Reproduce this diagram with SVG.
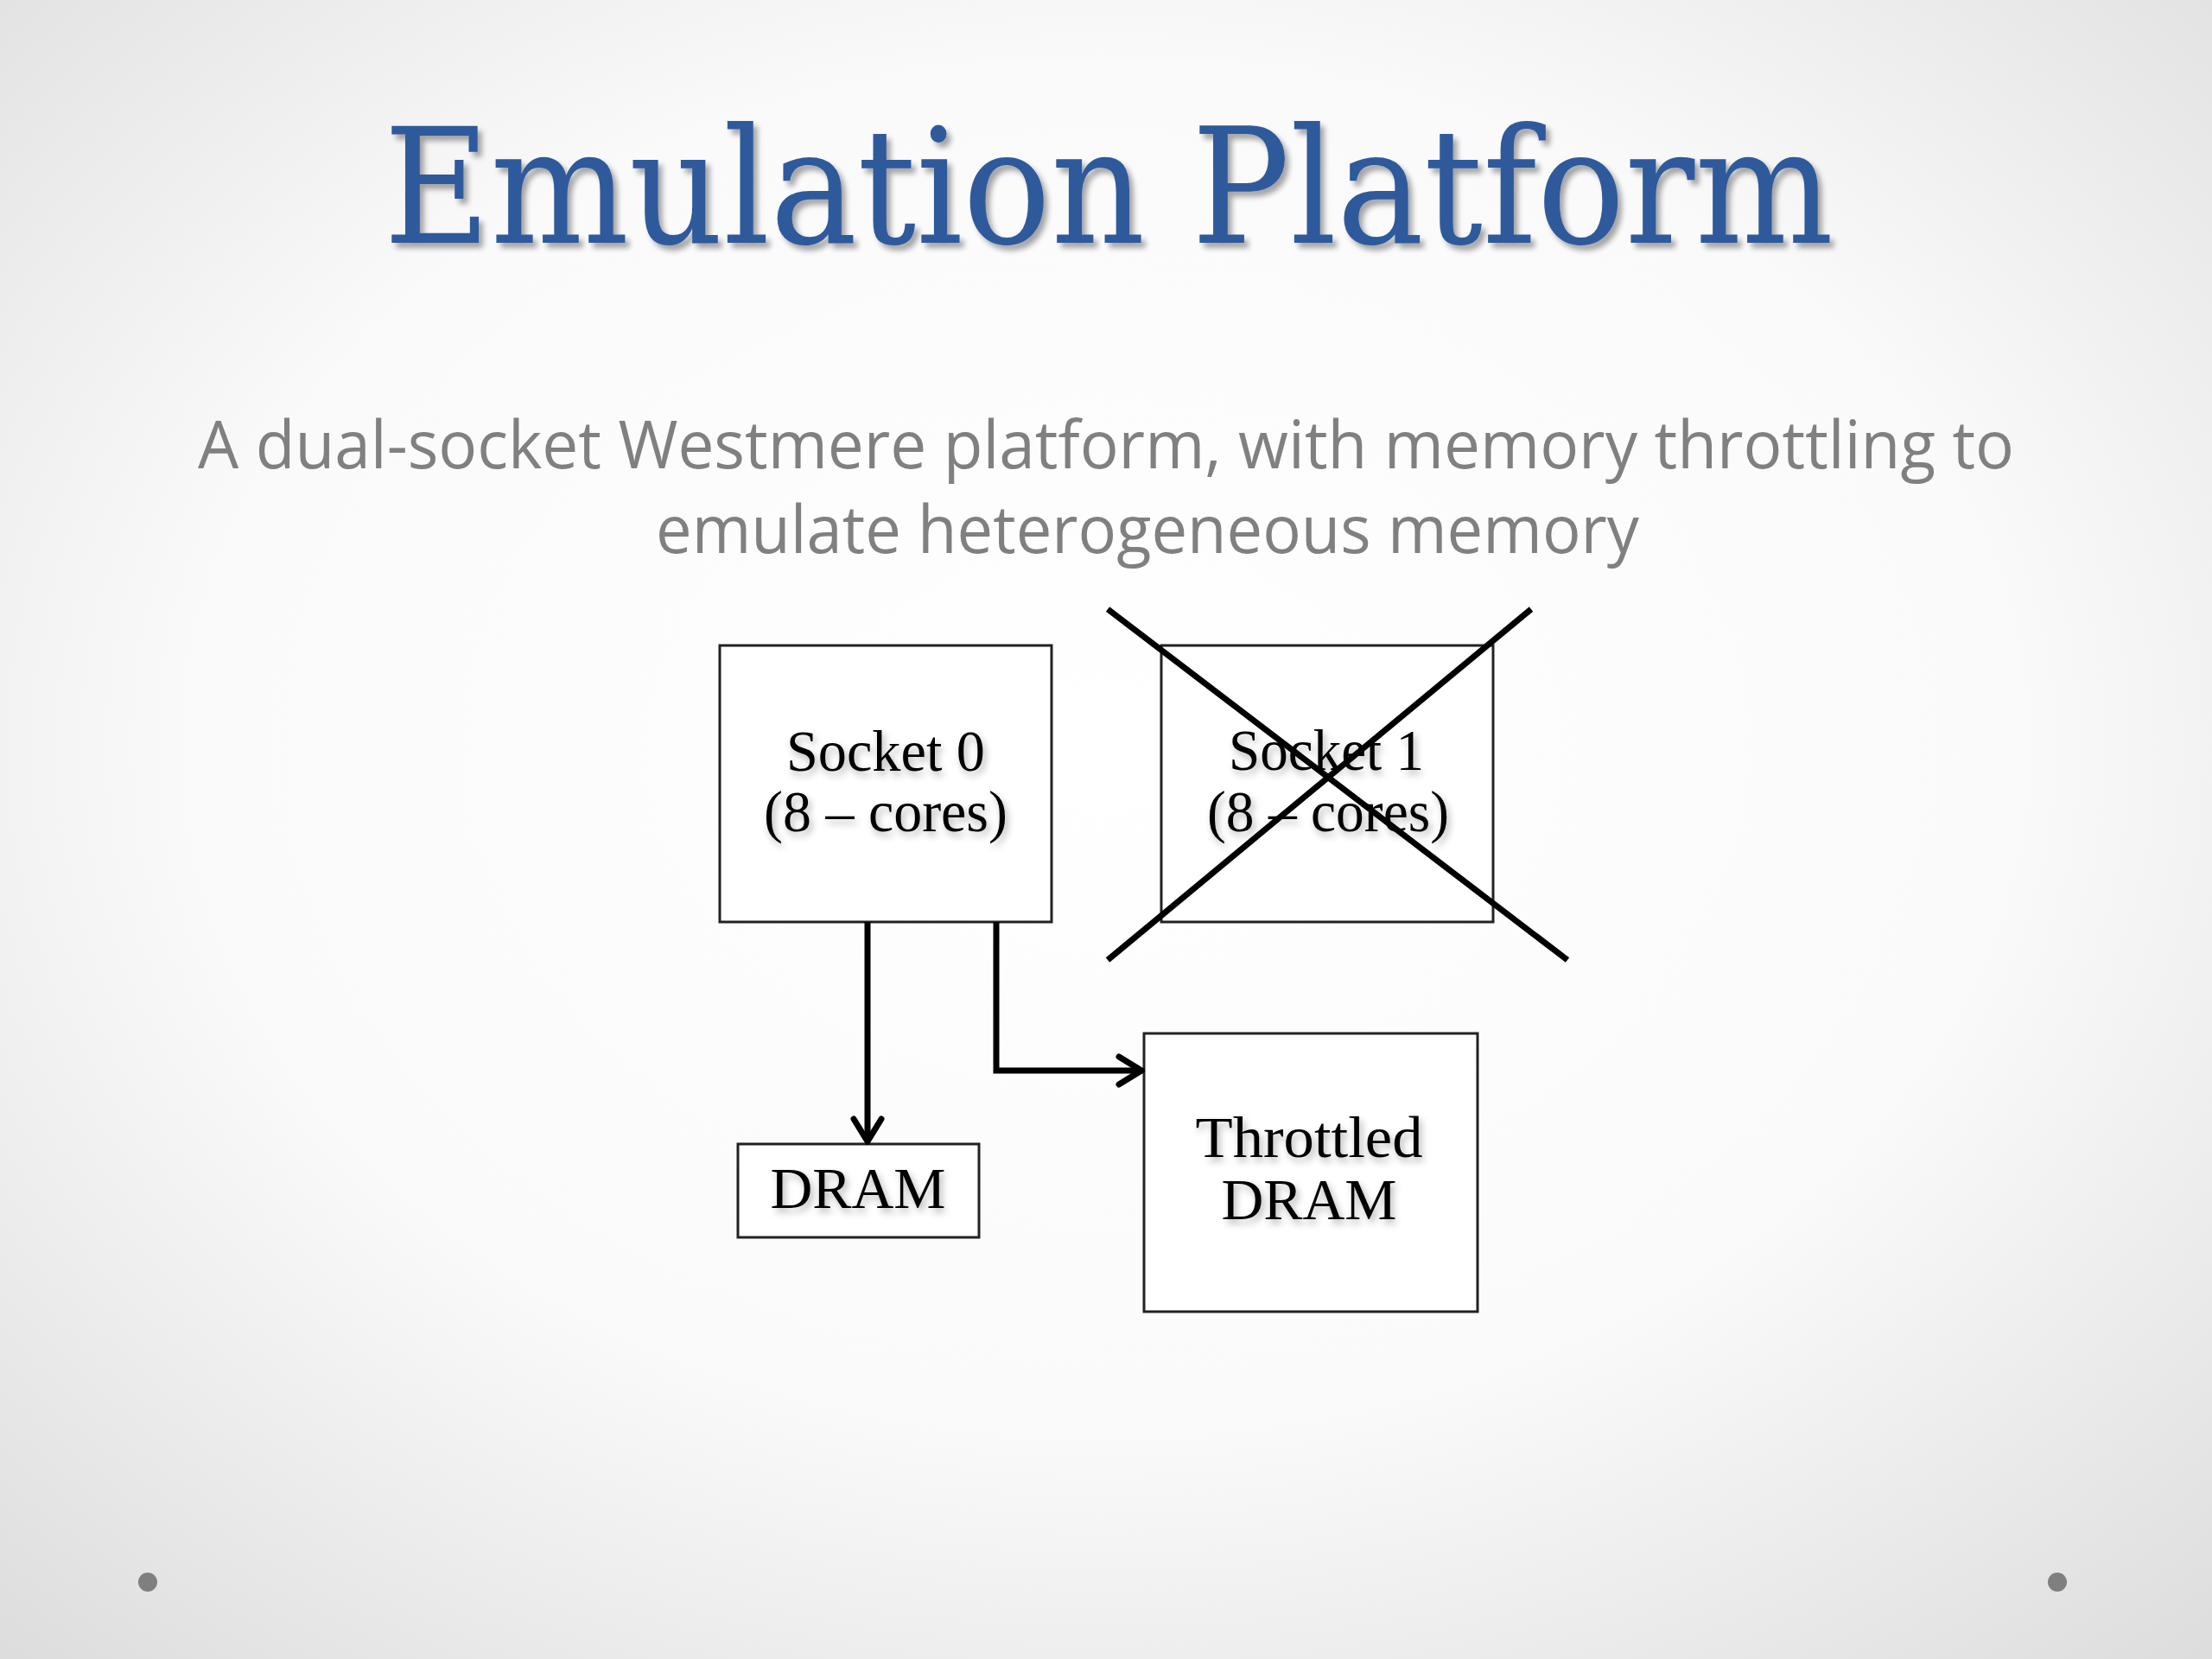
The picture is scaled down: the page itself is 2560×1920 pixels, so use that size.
<svg xmlns="http://www.w3.org/2000/svg" width="2560" height="1920" viewBox="0 0 2560 1920">
  <defs>
    <radialGradient id="bg" cx="50%" cy="45%" r="75%">
      <stop offset="0" stop-color="#ffffff"/>
      <stop offset="0.55" stop-color="#fafafa"/>
      <stop offset="1" stop-color="#dcdcdc"/>
    </radialGradient>
    <filter id="tshadow" x="-5%" y="-20%" width="110%" height="140%">
      <feGaussianBlur in="SourceAlpha" stdDeviation="3"/>
      <feOffset dx="5" dy="6" result="b"/>
      <feComponentTransfer in="b" result="s"><feFuncA type="linear" slope="0.35"/></feComponentTransfer>
      <feMerge><feMergeNode in="s"/><feMergeNode in="SourceGraphic"/></feMerge>
    </filter>
    <filter id="lshadow" x="-10%" y="-30%" width="120%" height="160%">
      <feGaussianBlur in="SourceAlpha" stdDeviation="4"/>
      <feOffset dx="3" dy="5" result="b"/>
      <feComponentTransfer in="b" result="s"><feFuncA type="linear" slope="0.3"/></feComponentTransfer>
      <feMerge><feMergeNode in="s"/><feMergeNode in="SourceGraphic"/></feMerge>
    </filter>
    <marker id="arrowBig" viewBox="0 0 40 40" refX="36" refY="20" markerWidth="40" markerHeight="40" markerUnits="userSpaceOnUse" orient="auto">
      <path d="M10,4 L36,20 L10,36" fill="none" stroke="#000" stroke-width="7" stroke-linecap="round" stroke-linejoin="miter"/>
    </marker>
  </defs>
  <style>
    .box { fill: #ffffff; stroke: #222222; stroke-width: 3; }
    .lbl { font-family: "Liberation Serif", "DejaVu Serif", serif; font-size: 68px; fill: #000; text-anchor: middle; }
    .conn { fill: none; stroke: #000; stroke-width: 7; }
    .cross { stroke: #000; stroke-width: 7; stroke-linecap: butt; }
    .sub { font-family: "Open Sans", "Liberation Sans", sans-serif; font-size: 76px; fill: #808080; }
  </style>

  <rect x="0" y="0" width="2560" height="1920" fill="url(#bg)"/>

  <text x="444" y="281" font-family="DejaVu Serif, Liberation Serif, serif" font-size="186" fill="#2F5A9C" textLength="1678" lengthAdjust="spacingAndGlyphs" filter="url(#tshadow)">Emulation Platform</text>

  <text class="sub" x="229" y="542" textLength="2102" lengthAdjust="spacingAndGlyphs">A dual-socket Westmere platform, with memory throttling to</text>
  <text class="sub" x="759" y="640" textLength="1138" lengthAdjust="spacingAndGlyphs">emulate heterogeneous memory</text>

  <g id="socket0">
    <rect class="box" x="833" y="747" width="384" height="320"/>
    <text class="lbl" x="1025" y="892" textLength="230" lengthAdjust="spacingAndGlyphs" filter="url(#lshadow)">Socket 0</text>
    <text class="lbl" x="1025" y="962" textLength="282" lengthAdjust="spacingAndGlyphs" filter="url(#lshadow)">(8 – cores)</text>
  </g>

  <g id="socket1">
    <rect class="box" x="1344" y="747" width="384" height="320"/>
    <text class="lbl" x="1535" y="891" textLength="226" lengthAdjust="spacingAndGlyphs" filter="url(#lshadow)">Socket 1</text>
    <text class="lbl" x="1537" y="962" textLength="280" lengthAdjust="spacingAndGlyphs" filter="url(#lshadow)">(8 – cores)</text>
    <line class="cross" x1="1282" y1="705" x2="1814" y2="1111"/>
    <line class="cross" x1="1772" y1="705" x2="1282" y2="1111"/>
  </g>

  <g id="dram">
    <rect class="box" x="854" y="1324" width="279" height="108"/>
    <text class="lbl" x="993" y="1398" textLength="203" lengthAdjust="spacingAndGlyphs" filter="url(#lshadow)">DRAM</text>
  </g>

  <g id="throttled">
    <rect class="box" x="1324" y="1196" width="386" height="322"/>
    <text class="lbl" x="1515" y="1339" textLength="263" lengthAdjust="spacingAndGlyphs" filter="url(#lshadow)">Throttled</text>
    <text class="lbl" x="1515" y="1411" textLength="203" lengthAdjust="spacingAndGlyphs" filter="url(#lshadow)">DRAM</text>
  </g>

  <g id="connectors">
    <path class="conn" d="M1004,1067 L1004,1321" marker-end="url(#arrowBig)"/>
    <path class="conn" d="M1153,1067 L1153,1239 L1321,1239" marker-end="url(#arrowBig)"/>
  </g>

  <circle cx="171" cy="1831" r="11" fill="#7f7f7f"/>
  <circle cx="2381" cy="1831" r="11" fill="#7f7f7f"/>
</svg>
